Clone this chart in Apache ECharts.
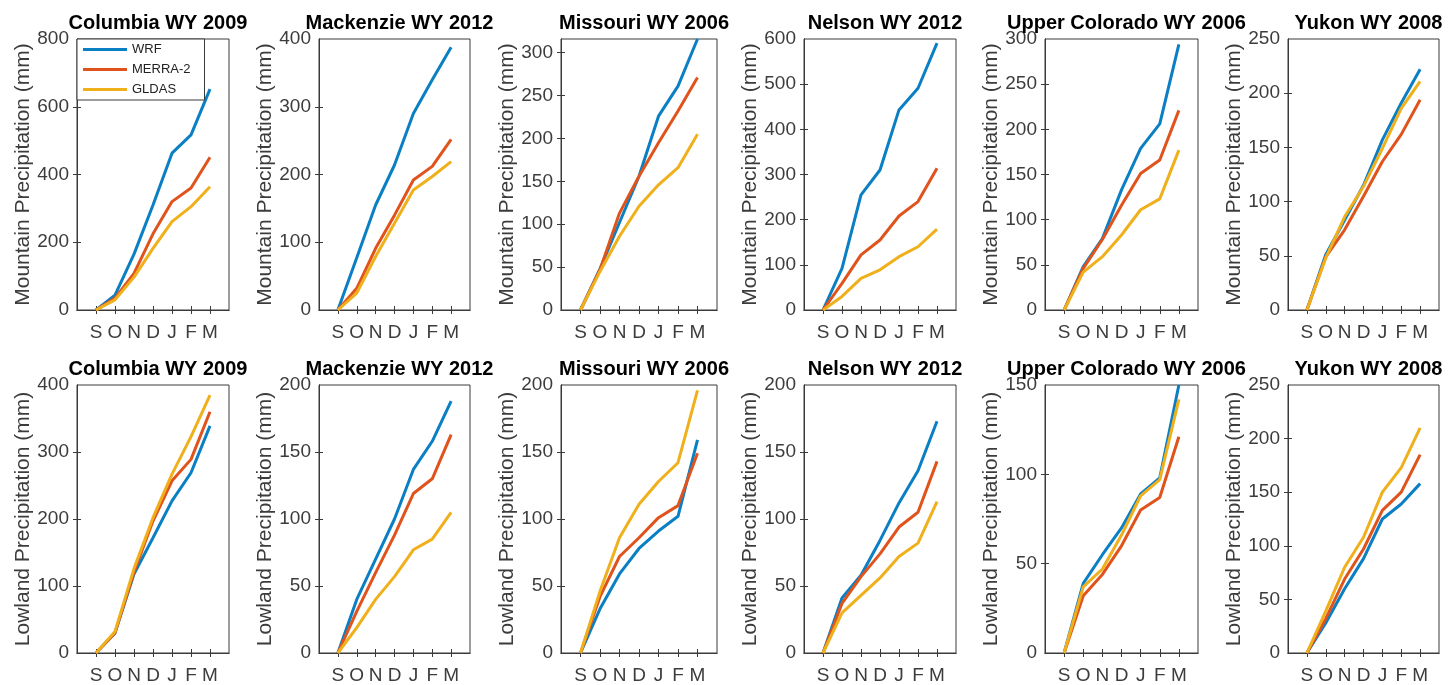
<!DOCTYPE html>
<html>
<head>
<meta charset="utf-8">
<script src="https://cdn.jsdelivr.net/npm/echarts@6/dist/echarts.min.js"></script>
<style>
html,body{margin:0;padding:0;background:#fff;}
#chart{width:1455px;height:685px;}
</style>
</head>
<body>
<div id="chart"></div>
<script>
// ---- data ----
const months = ['S', 'O', 'N', 'D', 'J', 'F', 'M'];
const seriesNames = ['WRF', 'MERRA-2', 'GLDAS'];
const titles = ['Columbia WY 2009', 'Mackenzie WY 2012', 'Missouri WY 2006', 'Nelson WY 2012', 'Upper Colorado WY 2006', 'Yukon WY 2008'];
const rowLabels = ['Mountain Precipitation (mm)', 'Lowland Precipitation (mm)'];

// Mountain (top row), one array per basin
const wrfMountain = [
  [0, 44, 165, 310, 463, 517, 652],
  [0, 77, 155, 214, 290, 340, 388],
  [0, 48, 102, 156, 226, 261, 316],
  [0, 92, 255, 310, 443, 491, 591],
  [0, 48, 79, 133, 179, 206, 294],
  [0, 51, 83, 115, 157, 191, 222]
];
const merraMountain = [
  [0, 35, 108, 225, 320, 360, 451],
  [0, 32, 91, 140, 192, 212, 252],
  [0, 47, 113, 156, 195, 232, 271],
  [0, 59, 122, 155, 208, 240, 314],
  [0, 46, 78, 116, 151, 166, 221],
  [0, 49, 74, 105, 137, 162, 194]
];
const gldasMountain = [
  [0, 30, 97, 182, 261, 305, 364],
  [0, 25, 79, 128, 177, 197, 219],
  [0, 45, 86, 121, 146, 166, 205],
  [0, 30, 70, 89, 118, 140, 179],
  [0, 42, 59, 83, 111, 123, 177],
  [0, 48, 86, 114, 149, 186, 211]
];
// Lowland (bottom row)
const wrfLowland = [
  [0, 30, 118, 172, 227, 269, 339],
  [0, 40, 70, 100, 137, 158, 188],
  [0, 33, 59, 78, 91, 102, 159],
  [0, 41, 58, 84, 112, 136, 173],
  [0, 39, 55, 70, 89, 98, 150],
  [0, 28, 60, 88, 125, 139, 158]
];
const merraLowland = [
  [0, 30, 121, 197, 257, 289, 360],
  [0, 31, 60, 88, 119, 130, 163],
  [0, 42, 72, 86, 101, 110, 149],
  [0, 37, 57, 74, 94, 105, 143],
  [0, 32, 44, 60, 80, 87, 121],
  [0, 32, 69, 97, 133, 150, 185]
];
const gldasLowland = [
  [0, 32, 126, 202, 267, 323, 385],
  [0, 19, 40, 57, 77, 85, 105],
  [0, 46, 86, 111, 128, 142, 196],
  [0, 30, 43, 56, 72, 82, 113],
  [0, 37, 47, 66, 88, 97, 142],
  [0, 39, 80, 108, 150, 173, 210]
];
// axis tick labels: max and step per panel (top row then bottom row)
const yMax = [800, 400, 316, 600, 300, 250, 400, 200, 200, 200, 150, 250];
const yStep = [200, 100, 50, 100, 50, 50, 100, 50, 50, 50, 50, 50];

// ---- layout ----
const lefts = [77, 319, 561, 804, 1045, 1288];
const widths = [152, 151, 156, 152, 153, 151];
const tops = [39, 385];
const H = 271;
const colors = ['#0a7fc4', '#e0531c', '#f0b01c'];
const FONT = '"Liberation Sans", Arial, Helvetica, sans-serif';
const AX = '#3a3a3a';
const LBL = '#3c3c3c';
const xTickVals = months.map((m, i) => i + 1);

const grids = [], xAxes = [], yAxes = [], series = [], titleArr = [];
const rows = [[wrfMountain, merraMountain, gldasMountain], [wrfLowland, merraLowland, gldasLowland]];

for (let r = 0; r < 2; r++) {
  for (let c = 0; c < 6; c++) {
    const g = r * 6 + c;
    grids.push({left: lefts[c], top: tops[r], width: widths[c], height: H, show: true,
      borderColor: AX, borderWidth: 1, backgroundColor: '#fff', containLabel: false});
    titleArr.push({text: titles[c], left: lefts[c] + widths[c] / 2, top: tops[r] - 31, textAlign: 'center',
      textStyle: {fontFamily: FONT, fontSize: 20, fontWeight: 'bold', color: '#000'}});
    const step = yStep[g];
    const yTickVals = [];
    for (let v = step; v < yMax[g]; v += step) yTickVals.push(v);
    const xBase = {type: 'value', gridIndex: g, min: 0, max: 8, interval: 1,
      axisLine: {show: true, lineStyle: {color: AX, width: 1}}, splitLine: {show: false},
      axisTick: {show: true, inside: true, length: 4, customValues: xTickVals, lineStyle: {color: AX}}};
    xAxes.push(Object.assign({}, xBase, {position: 'bottom',
      axisLabel: {show: true, margin: 13, fontFamily: FONT, fontSize: 19, color: LBL,
        formatter: v => months[v - 1] || ''}}));
    xAxes.push(Object.assign({}, xBase, {position: 'top', axisLabel: {show: false}}));
    const yBase = {type: 'value', gridIndex: g, min: 0, max: yMax[g], interval: step,
      axisLine: {show: true, lineStyle: {color: AX, width: 1}}, splitLine: {show: false},
      axisTick: {show: true, inside: true, length: 4, customValues: yTickVals, lineStyle: {color: AX}}};
    yAxes.push(Object.assign({}, yBase, {position: 'left',
      name: rowLabels[r], nameLocation: 'middle', nameGap: 43,
      nameTextStyle: {fontFamily: FONT, fontSize: 21, color: LBL},
      axisLabel: {show: true, margin: 8, fontFamily: FONT, fontSize: 19, color: LBL,
        formatter: v => (v % step === 0 ? String(v) : '')}}));
    yAxes.push(Object.assign({}, yBase, {position: 'right', axisLabel: {show: false}}));
    const dataSets = rows[r];
    for (let s = 0; s < 3; s++) {
      series.push({type: 'line', name: seriesNames[s], xAxisIndex: 2 * g, yAxisIndex: 2 * g,
        data: dataSets[s][c].map((v, i) => [i + 1, v]),
        symbol: 'none', smooth: false, clip: true, z: 2 + s,
        lineStyle: {color: colors[s], width: 3}, itemStyle: {color: colors[s]},
        emphasis: {disabled: true}, animation: false});
    }
  }
}

const chart = echarts.init(document.getElementById('chart'), null, {renderer: 'canvas'});
chart.setOption({
  animation: false,
  backgroundColor: '#ffffff',
  title: titleArr,
  grid: grids,
  xAxis: xAxes,
  yAxis: yAxes,
  legend: {
    show: true, orient: 'vertical', left: 77, top: 39,
    data: seriesNames,
    icon: 'rect', itemWidth: 44, itemHeight: 3, itemGap: 5,
    padding: [3, 14, 3, 6],
    borderColor: AX, borderWidth: 1, backgroundColor: '#fff',
    textStyle: {fontFamily: FONT, fontSize: 13, lineHeight: 15, color: '#222'},
    selectedMode: false, z: 10
  },
  series: series
});
</script>
</body>
</html>
